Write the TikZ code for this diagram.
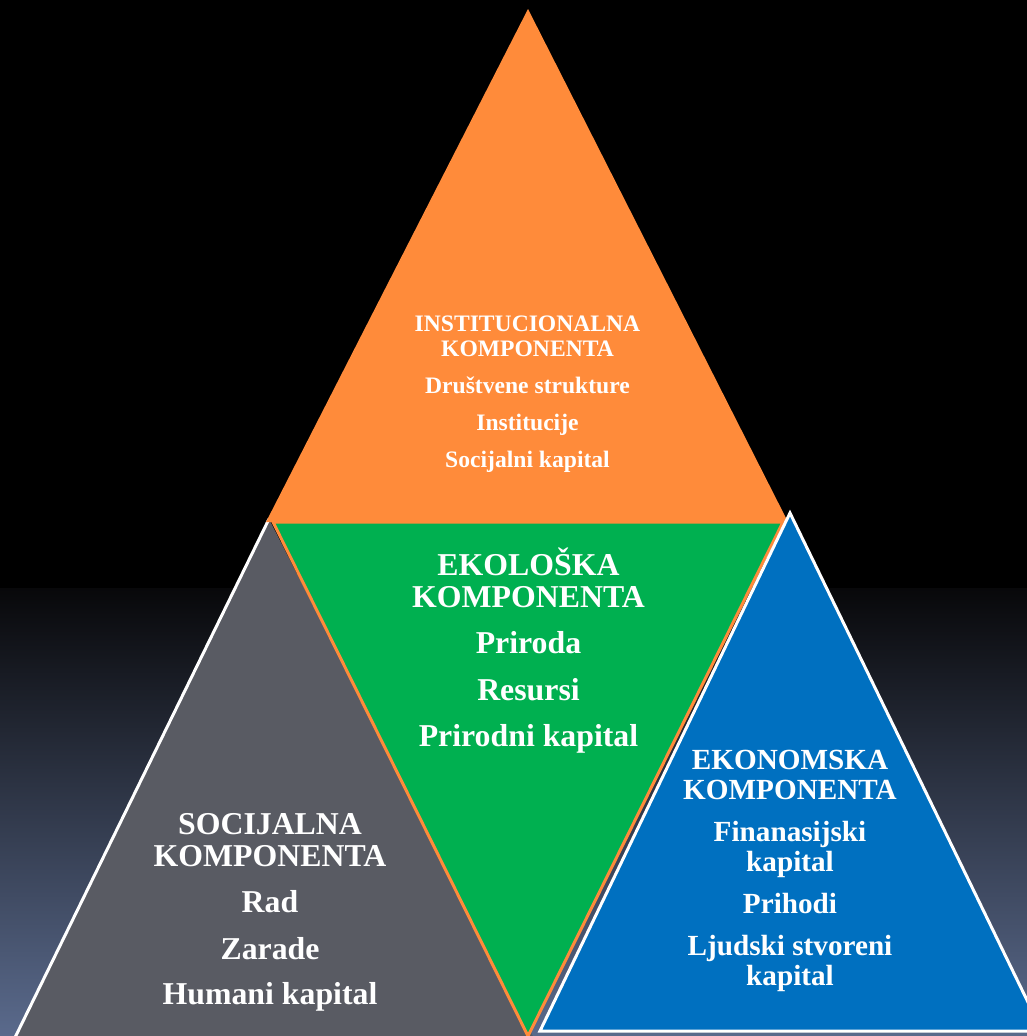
\documentclass[tikz,border=0pt]{standalone}
\usepackage{fontspec}
\setmainfont{Liberation Serif}
\definecolor{bgbot}{RGB}{90,106,140}
\definecolor{bgtop}{RGB}{8,8,10}
\definecolor{orangec}{RGB}{255,139,58}
\definecolor{greenc}{RGB}{0,176,80}
\definecolor{bluec}{RGB}{0,112,192}
\definecolor{grayc}{RGB}{89,91,99}
\tikzset{
  lbl/.style={anchor=base, text=white, font=\bfseries\fontsize{#1}{#1}\selectfont, inner sep=0pt},
  tri/.style={line join=miter}
}
\begin{document}
\begin{tikzpicture}[x=1pt,y=-1pt]
\useasboundingbox (0,0) rectangle (1027,1036);
\clip (0,0) rectangle (1027,1036);
% background
\fill[black] (0,0) rectangle (1027,1036);
\shade[top color=bgtop, bottom color=bgbot] (0,588) rectangle (1027,1036);
% gray triangle (social)
\coordinate (ga) at (269,519);
\coordinate (gl) at (4,1060);
\coordinate (gr) at (545,1060);
\fill[grayc] (ga) -- (gl) -- (gr) -- cycle;
\draw[white, line width=3] (ga) -- (gl);
% green inverted triangle (ecological)
\filldraw[tri, fill=greenc, draw=orangec, line width=3] (273,522) -- (783,522) -- (528,1036) -- cycle;
% orange triangle (institutional)
\fill[orangec] (528,9) -- (266,522) -- (788,522) -- cycle;
% blue triangle (economic)
\filldraw[tri, fill=bluec, draw=white, line width=3] (790,513) -- (540,1031) -- (1042,1031) -- cycle;

% institutional text
\node[lbl=23.6] (i1) at (527.5,331.7) {INSTITUCIONALNA};
\node[lbl=23.6] (i2) at (527.5,356) {KOMPONENTA};
\node[lbl=23.6] (i3) at (527.5,393) {Društvene strukture};
\node[lbl=23.6] (i4) at (527.5,430) {Institucije};
\node[lbl=23.6] (i5) at (527.5,467) {Socijalni kapital};

% ecological text
\node[lbl=31.8] (e1) at (528.5,575) {EKOLOŠKA};
\node[lbl=31.8] (e2) at (528.5,607) {KOMPONENTA};
\node[lbl=31.8] (e3) at (528.5,653.8) {Priroda};
\node[lbl=31.8] (e4) at (528.5,700.6) {Resursi};
\node[lbl=31.8] (e5) at (528.5,746.5) {Prirodni kapital};

% social text
\node[lbl=31.8] (s1) at (270,834.6) {SOCIJALNA};
\node[lbl=31.8] (s2) at (270,866.5) {KOMPONENTA};
\node[lbl=31.8] (s3) at (270,912.6) {Rad};
\node[lbl=31.8] (s4) at (270,959.4) {Zarade};
\node[lbl=31.8] (s5) at (270,1004.8) {Humani kapital};

% economic text
\node[lbl=29.2] (k1) at (790,769) {EKONOMSKA};
\node[lbl=29.2] (k2) at (790,799) {KOMPONENTA};
\node[lbl=29.2] (k3) at (790,841.7) {Finanasijski};
\node[lbl=29.2] (k4) at (790,871.8) {kapital};
\node[lbl=29.2] (k5) at (790,913.3) {Prihodi};
\node[lbl=29.2] (k6) at (790,955.2) {Ljudski stvoreni};
\node[lbl=29.2] (k7) at (790,985.3) {kapital};
\end{tikzpicture}
\end{document}
